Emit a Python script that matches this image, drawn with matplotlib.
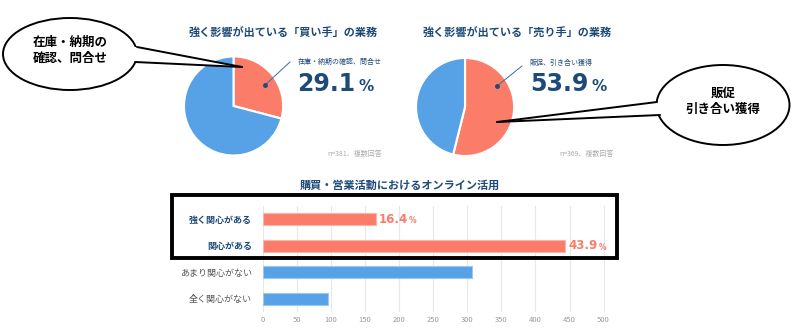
# -*- coding: utf-8 -*-
import matplotlib
matplotlib.use('Agg')
import matplotlib.pyplot as plt
from matplotlib.patches import Ellipse, Polygon, Rectangle

plt.rcParams['font.family'] = ['Noto Sans CJK JP', 'DejaVu Sans']

# data
buyer_share = [29.1, 70.9]      # 在庫・納期の確認、問合せ / other
seller_share = [53.9, 46.1]     # 販促、引き合い獲得 / other
bar_labels = ['強く関心がある', '関心がある', 'あまり関心がない', '全く関心がない']
bar_values = [166, 444, 307, 95]
bar_pct = ['16.4', '43.9']
xticks = [0, 50, 100, 150, 200, 250, 300, 350, 400, 450, 500]

RED = '#FA7C69'
BLUE = '#57A1E6'
NAVY = '#1E4A78'

W, H = 800, 328
fig = plt.figure(figsize=(8, 3.28), dpi=100)

def Y(y):
    return H - y

def pct_after(t, dx, dy, **kw):
    # put a small "%" right after an already drawn text
    fig.canvas.draw()
    bb = t.get_window_extent()
    fig.text((bb.x1 + dx) / W, (bb.y0 + dy) / H, '%', ha='left', va='baseline',
             family='DejaVu Sans', fontweight='bold', zorder=10, **kw)

# bar chart
bx = fig.add_axes([263 / W, (H - 312) / H, 344 / W, 106 / H])
ypos = list(range(len(bar_values)))
bar_colors = [RED, RED, BLUE, BLUE]
bx.barh(ypos, bar_values, height=0.45, color=bar_colors,
        edgecolor=['#FDB3A8', '#FDB3A8', '#9CC8F0', '#9CC8F0'], linewidth=0.8, zorder=3)
bx.set_ylim(len(bar_values) - 0.5, -0.5)
bx.set_xlim(0, 505)
bx.set_xticks(xticks)
bx.set_xticklabels([str(t) for t in xticks], fontsize=5.5, color='#999999')
bx.set_yticks(ypos)
bx.set_yticklabels(bar_labels, fontsize=6.5)
for i, lab in enumerate(bx.get_yticklabels()):
    if i < 2:
        lab.set_color(NAVY)
        lab.set_fontweight('bold')
    else:
        lab.set_color('#555555')
bx.tick_params(axis='y', length=0, pad=8)
bx.tick_params(axis='x', length=0, pad=3)
bx.grid(axis='x', color='#E8E8E8', linewidth=0.8, zorder=0)
for s in bx.spines.values():
    s.set_visible(False)
pct_texts = []
for i, p in enumerate(bar_pct):
    t = bx.text(bar_values[i] + 4, i, p, color=RED, fontsize=8.5, fontweight='bold',
                va='center', ha='left', family='DejaVu Sans')
    pct_texts.append(t)

# overlay in pixel coords
ax = fig.add_axes([0, 0, 1, 1])
ax.patch.set_alpha(0)

# left pie (buyer)
ax.pie(buyer_share, colors=[RED, BLUE], startangle=90, counterclock=False,
       explode=[0.14, 0], center=(233.5, Y(106)), radius=49.5, frame=True,
       wedgeprops=dict(edgecolor='white', linewidth=1.5))
# right pie (seller)
ax.pie(seller_share, colors=[RED, BLUE], startangle=90, counterclock=False,
       explode=[0.1, 0], center=(465, Y(107)), radius=49, frame=True,
       wedgeprops=dict(edgecolor='white', linewidth=1.5))
ax.set_xlim(0, W)
ax.set_ylim(0, H)
ax.set_aspect('auto')
ax.axis('off')

# titles
ax.text(283, Y(33), '強く影響が出ている「買い手」の業務', color=NAVY, fontsize=8,
        fontweight='bold', ha='center', va='center')
ax.text(517, Y(33), '強く影響が出ている「売り手」の業務', color=NAVY, fontsize=8,
        fontweight='bold', ha='center', va='center')
ax.text(400, Y(185), '購買・営業活動におけるオンライン活用', color=NAVY, fontsize=8,
        fontweight='bold', ha='center', va='center')

# pie annotations
ax.plot([265, 290], [Y(85), Y(62)], color='#3A6C9C', linewidth=0.7, zorder=4)
ax.plot(265, Y(85), 'o', color=NAVY, markersize=2.5, zorder=4)
ax.text(298, Y(62), '在庫・納期の確認、問合せ', color=NAVY, fontsize=5, ha='left', va='center')
big1 = ax.text(297, Y(91), '29.1', color=NAVY, fontsize=17, fontweight='bold', ha='left',
               va='baseline', family='DejaVu Sans')
ax.text(327, Y(154), 'n=381、複数回答', color='#AAAAAA', fontsize=5, ha='left', va='center')

ax.plot([497, 522], [Y(86), Y(66)], color='#3A6C9C', linewidth=0.7, zorder=4)
ax.plot(497, Y(86), 'o', color=NAVY, markersize=2.5, zorder=4)
ax.text(530, Y(63), '販促、引き合い獲得', color=NAVY, fontsize=5, ha='left', va='center')
big2 = ax.text(530, Y(91), '53.9', color=NAVY, fontsize=17, fontweight='bold', ha='left',
               va='baseline', family='DejaVu Sans')
ax.text(559, Y(154), 'n=369、複数回答', color='#AAAAAA', fontsize=5, ha='left', va='center')

# callouts
def callout(cx, cy, w, h, base1, base2, tip, inner, text):
    ax.add_patch(Ellipse((cx, Y(cy)), w, h, facecolor='white', edgecolor='black',
                         linewidth=1.4, zorder=5))
    pts = [inner[0], base1, tip, base2, inner[1]]
    ax.add_patch(Polygon([(px, Y(py)) for px, py in pts], closed=True,
                         facecolor='white', edgecolor='none', zorder=6))
    for b in (base1, base2):
        ax.plot([b[0], tip[0]], [Y(b[1]), Y(tip[1])], color='black', linewidth=1.4,
                zorder=7, solid_capstyle='round')
    ax.text(cx, Y(cy - 4), text, fontsize=9, fontweight='bold', ha='center',
            va='center', linespacing=1.3, zorder=8)

callout(70, 54, 134, 72, (137, 47), (135, 62), (242, 67),
        [(125, 47), (123, 62)], '在庫・納期の\n確認、問合せ')
callout(723, 105, 133, 80, (657, 102), (660, 115), (497, 122),
        [(670, 102), (672, 115)], '販促\n引き合い獲得')

# highlight box
ax.add_patch(Rectangle((172, Y(258)), 445, 63, facecolor='none', edgecolor='black',
                       linewidth=2.8, zorder=9))

# small percent signs
pct_after(big1, 3, 5, color=NAVY, fontsize=11)
pct_after(big2, 3, 5, color=NAVY, fontsize=11)
for t in pct_texts:
    pct_after(t, 1, 2.5, color=RED, fontsize=5.5)

fig.savefig('out.png', dpi=100)
